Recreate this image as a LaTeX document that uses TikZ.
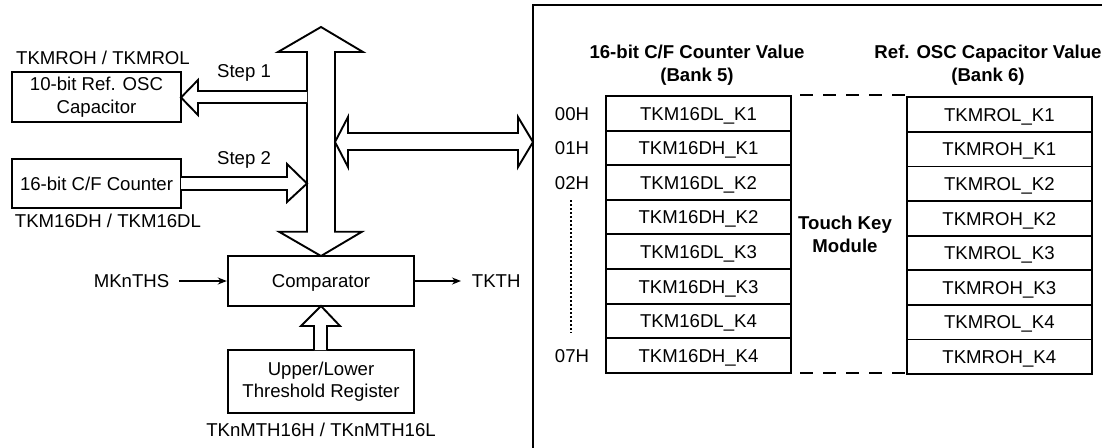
\documentclass[tikz,border=0pt]{standalone}
\usepackage{fontspec}
\setmainfont{Liberation Sans}
\usetikzlibrary{arrows.meta}
\begin{document}
\begin{tikzpicture}[x=1pt,y=-1pt,line width=1.9pt,
  every node/.style={font=\fontsize{18.6}{22.5}\selectfont, inner sep=0pt},
  sl/.style={text height=13.4pt, text depth=0pt},
  box/.style={draw, line width=1.9pt, align=center},
  cell/.style={draw, sl, line width=1.9pt, minimum width=185pt, minimum height=34.6pt},
  hd/.style={font=\bfseries\fontsize{18.6}{23}\selectfont, align=center},
  hollow/.style={draw, fill=white, line width=1.9pt, line join=miter},
  sig/.style={-{Stealth[length=9pt,width=7pt]}, line width=1.5pt},
  dotline/.style={line width=1.3pt, dash pattern=on 1.5pt off 2.5pt},
  dashline/.style={line width=1.9pt, dash pattern=on 13pt off 10pt}]
\useasboundingbox (0,0) rectangle (1102,447);

% left blocks
\node[box, minimum width=169pt, minimum height=50pt] (ref) at (96.5,97) {10-bit Ref. OSC\\Capacitor};
\node[box, sl, minimum width=169pt, minimum height=49pt] (cnt) at (96.5,183.5) {16-bit C/F Counter};
\node[sl] (lref) at (103,58) {TKMROH / TKMROL};
\node[sl] (lcnt) at (108,221) {TKM16DH / TKM16DL};
\node[sl] (s1) at (244,71) {Step 1};
\node[sl] (s2) at (244,158) {Step 2};

% vertical bus (double hollow arrow)
\draw[hollow] (307,52) -- (278,52) -- (321,27) -- (363,52) -- (335,52) -- (335,231.7)
  -- (362,231.7) -- (321,256) -- (279,231.7) -- (307,231.7) -- cycle;

% step arrows
\draw[hollow] (307,91) -- (198,91) -- (198,80) -- (181,97.5) -- (198,115) -- (198,103) -- (307,103);
\draw[hollow] (181,177) -- (287,177) -- (287,164) -- (307,183.5) -- (287,202) -- (287,190) -- (181,190);

% horizontal double arrow to module
\draw[hollow] (335,142) -- (348,117) -- (348,133) -- (518,133) -- (518,117) -- (533,142)
  -- (518,167) -- (518,150) -- (348,150) -- (348,167) -- cycle;

% comparator & threshold
\node[box, sl, minimum width=186.5pt, minimum height=50pt] (cmp) at (321,281) {Comparator};
\node[box, minimum width=186.5pt, minimum height=63pt] (thr) at (321,381.5) {Upper/Lower\\Threshold Register};
\node[sl] (lthr) at (321,430) {TKnMTH16H / TKnMTH16L};
\draw[hollow] (314,350) -- (314,326) -- (301,326) -- (321,306) -- (340,326) -- (327,326) -- (327,350);

\node[sl] (mk) at (131.5,281) {MKnTHS};
\node[sl, anchor=west] (tk) at (471,281) {TKTH};
\draw[sig] ([xshift=9pt]mk.east) -- (cmp.west);
\draw[sig] (cmp.east) -- ([xshift=-10pt]tk.west);

% module frame
\draw (533,460) -- (533,5) -- (1110,5);

% headers
\node[hd] (h1) at (697,65.5) {16-bit C/F Counter Value\\(Bank 5)};
\node[hd] (h2) at (988,65.5) {Ref. OSC Capacitor Value\\(Bank 6)};

% tables
\foreach \t [count=\i] in {TKM16DL\_K1,TKM16DH\_K1,TKM16DL\_K2,TKM16DH\_K2,TKM16DL\_K3,TKM16DH\_K3,TKM16DL\_K4,TKM16DH\_K4}
  \node[cell] (L\i) at (698.5,{96+34.6*(\i-0.5)}) {\t};
\foreach \t [count=\i] in {TKMROL\_K1,TKMROH\_K1,TKMROL\_K2,TKMROH\_K2,TKMROL\_K3,TKMROH\_K3,TKMROL\_K4,TKMROH\_K4}
  \node[cell] (R\i) at (999.3,{97.3+34.6*(\i-0.5)}) {\t};

% addresses
\node[sl] (a0) at (572,113.3) {00H};
\node[sl] (a1) at (572,147.9) {01H};
\node[sl] (a2) at (572,182.5) {02H};
\node[sl] (a7) at (572,355.7) {07H};
\coordinate (d1) at (571,200);
\coordinate (d2) at (571,333);
\draw[dotline] (d1) -- (d2);

% dashed links
\coordinate (t1) at (800,95);
\coordinate (t2) at (906,95);
\coordinate (b1) at (800,373);
\coordinate (b2) at (906,373);
\draw[dashline] (t1) -- (t2);
\draw[dashline] (b1) -- (b2);

\node[hd] (tkm) at (845,234) {Touch Key\\Module};
\end{tikzpicture}
\end{document}
